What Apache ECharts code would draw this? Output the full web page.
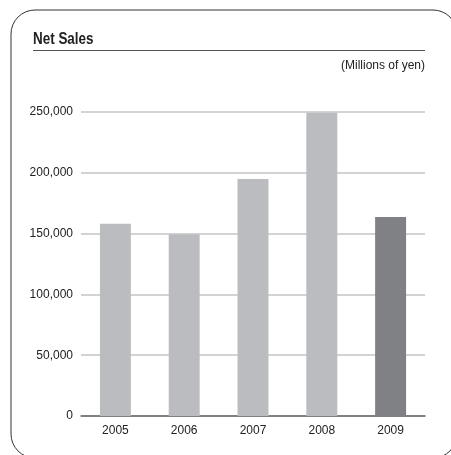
<!DOCTYPE html>
<html><head><meta charset="utf-8">
<script src="https://cdn.jsdelivr.net/npm/echarts@6/dist/echarts.min.js"></script>
<style>html,body{margin:0;padding:0;background:#fff}#c{width:451px;height:455px}</style>
</head><body><div id="c"></div>
<script>
const categories = ['2005', '2006', '2007', '2008', '2009'];
const netSales = [158000, 149500, 194800, 249300, 163700];
const barColors = ['#bbbcc0', '#bbbcc0', '#bbbcc0', '#bbbcc0', '#808184'];
const yTicks = [0, 50000, 100000, 150000, 200000, 250000];
const titleText = 'Net Sales';
const unitText = '(Millions of yen)';

const font = '"Liberation Sans Narrow", "Liberation Sans", Arial, sans-serif';
const chart = echarts.init(document.getElementById('c'), null, {renderer: 'canvas'});
chart.setOption({
  animation: false,
  backgroundColor: '#fff',
  graphic: [
    {type: 'rect', shape: {x: 11, y: 10, width: 446, height: 448, r: 24}, style: {fill: 'none', stroke: '#333', lineWidth: 1}, silent: true},
    {type: 'line', shape: {x1: 33, y1: 50.5, x2: 425, y2: 50.5}, style: {stroke: '#555', lineWidth: 1}, silent: true},
    {type: 'text', x: 33, y: 48, scaleX: 0.84, silent: true,
      style: {text: titleText, font: 'bold 16px ' + font, fill: '#222', textVerticalAlign: 'bottom', verticalAlign: 'bottom'}},
    {type: 'text', x: 425, y: 66, silent: true,
      style: {text: unitText, font: '12px ' + font, fill: '#222', align: 'right', textAlign: 'right', verticalAlign: 'middle', textVerticalAlign: 'middle'}}
  ],
  grid: {left: 81, right: 26, top: 112, bottom: 39, containLabel: false},
  xAxis: {
    type: 'category', data: categories,
    axisLine: {lineStyle: {color: '#666', width: 1.5}},
    axisTick: {show: false},
    axisLabel: {fontFamily: font, fontSize: 12, color: '#222', margin: 9}
  },
  yAxis: {
    type: 'value', min: yTicks[0], max: yTicks[yTicks.length - 1], interval: 50000,
    axisLine: {show: false}, axisTick: {show: false},
    axisLabel: {fontFamily: font, fontSize: 12, color: '#222', margin: 8,
      formatter: v => v.toLocaleString('en-US')},
    splitLine: {lineStyle: {color: '#c4c4c4', width: 1.5}}
  },
  series: [{
    type: 'bar', barWidth: '45%',
    data: netSales.map((v, i) => ({value: v, itemStyle: {color: barColors[i]}})),
    z: 3
  }]
});
</script></body></html>
